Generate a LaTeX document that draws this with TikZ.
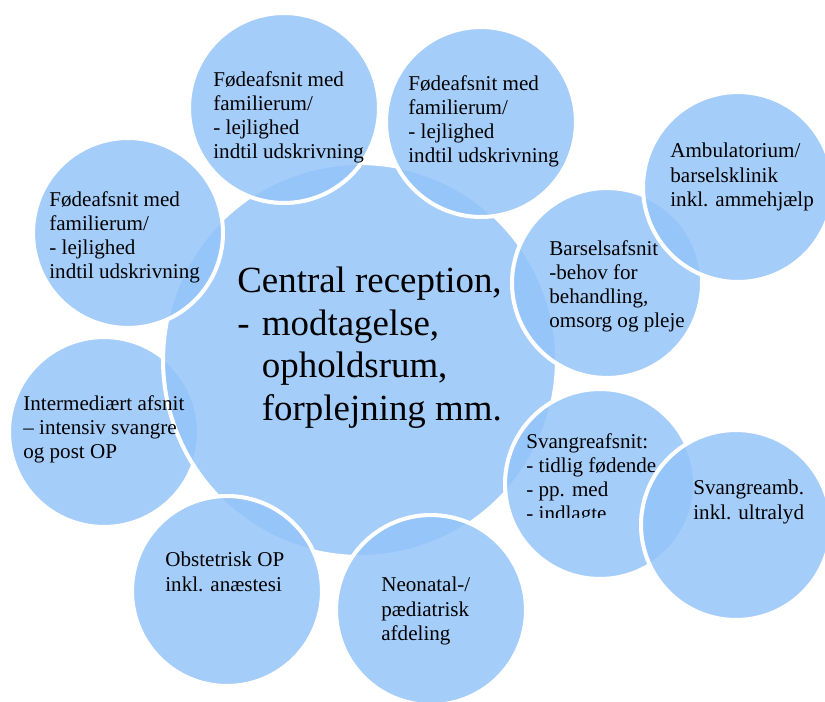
\documentclass[tikz,border=0pt]{standalone}
\usepackage{fontspec}
\setmainfont{Liberation Serif}
\definecolor{bubblue}{RGB}{147,195,249}
\begin{document}
\begin{tikzpicture}[x=0.02cm,y=-0.02cm]
        \tikzstyle{bubble}=[circle,draw=white,line width=2.3pt,fill=bubblue,fill opacity=0.83,draw opacity=1,inner sep=0,minimum size=3.8cm]
        \tikzstyle{hub}=[bubble,minimum size=7.88cm]
        \tikzstyle{small}=[anchor=north west,inner sep=0,align=left,font=\fontsize{12}{13.8}\selectfont]
        \tikzstyle{big}=[anchor=north west,inner sep=0,align=left,font=\fontsize{21}{24.2}\selectfont]
        \useasboundingbox (0,0) rectangle (825,702);
       \begin{scope}
         % circles
         \node [bubble] (inter) at (104,432) {};
         \node [hub] (central) at (360,360) {};
         \node [bubble] (fode1) at (284,108) {};
         \node [bubble] (fode2) at (481,122) {};
         \node [bubble] (fode3) at (128,233) {};
         \node [bubble] (barsel) at (607,283) {};
         \node [bubble] (amb) at (738,187) {};
         \node [bubble] (svangre) at (600,484) {};
         \node [bubble] (svamb) at (736,525) {};
         \node [bubble] (obst) at (227,591) {};
         \node [bubble] (neo) at (431,610) {};

         % texts
         \node [big] (tcentral) at (237,267) {Central reception,\\ \makebox[14pt][l]{-}modtagelse,\\ \hspace*{14pt}opholdsrum,\\ \hspace*{14pt}forplejning mm.};
         \node [small] (tfode1) at (213,71) {Fødeafsnit med\\ familierum/\\ - lejlighed\\ indtil udskrivning};
         \node [small] (tfode2) at (408,75) {Fødeafsnit med\\ familierum/\\ - lejlighed\\ indtil udskrivning};
         \node [small] (tfode3) at (49,191) {Fødeafsnit med\\ familierum/\\ - lejlighed\\ indtil udskrivning};
         \node [small] (tamb) at (670,143) {Ambulatorium/\\ barselsklinik\\ inkl. ammehjælp};
         \node [small] (tbarsel) at (549,240) {Barselsafsnit\\ -behov for\\ behandling,\\ omsorg og pleje};
         \node [small] (tinter) at (23,395) {Intermediært afsnit\\ – intensiv svangre\\ og post OP};
         \begin{scope}
           \clip (500,420) rectangle (700,517);
           \node [small] (tsvangre) at (526,433) {Svangreafsnit:\\ - tidlig fødende\\ - pp. med\\ - indlagte};
         \end{scope}
         \node [small] (tsvamb) at (693,480) {Svangreamb.\\ inkl. ultralyd};
         \node [small] (tobst) at (165,552) {Obstetrisk OP\\ inkl. anæstesi};
         \node [small] (tneo) at (381,577) {Neonatal-/\\ pædiatrisk\\ afdeling};
        \end{scope}
      \end{tikzpicture}
\end{document}
